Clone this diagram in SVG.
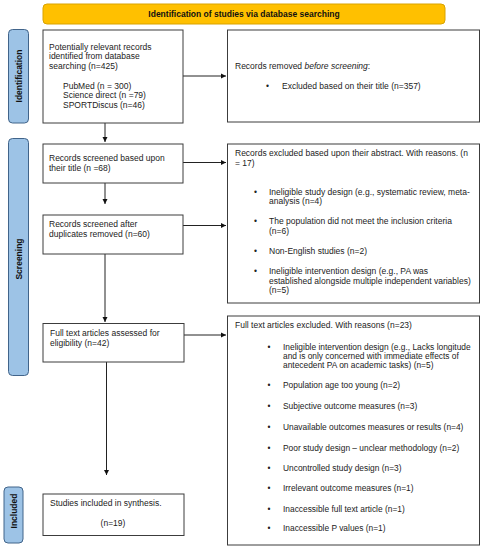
<svg xmlns="http://www.w3.org/2000/svg" width="485" height="550" viewBox="0 0 485 550">
<defs>
<marker id="arr" markerWidth="6" markerHeight="6" refX="5" refY="3" orient="auto" markerUnits="userSpaceOnUse">
<path d="M0,0.5 L5,3 L0,5.5 Z" fill="#111"/>
</marker>
<style>
.t{font-family:"Liberation Sans",Arial,sans-serif;font-size:8.5px;fill:#222}
.s{font-family:"Liberation Sans",Arial,sans-serif;font-size:8.4px;fill:#222}
.b{font-family:"Liberation Sans",Arial,sans-serif;font-size:8.5px;font-weight:bold;fill:#111}
.box{fill:#fff;stroke:#3c3c3c;stroke-width:1}
.bar{fill:#9dc3e6;stroke:#41648a;stroke-width:1}
.c{fill:none;stroke:#222;stroke-width:1;marker-end:url(#arr)}
</style>
</defs>
<rect width="485" height="550" fill="#fff"/>

<g id="banner">
<rect x="43" y="4" width="402" height="20" rx="4" fill="#ffc000" stroke="#d9a300" stroke-width="1"/>
<text class="b" x="244" y="17" text-anchor="middle">Identification of studies via database searching</text>
</g>

<g id="bar-identification">
<rect class="bar" x="8.5" y="29.5" width="20" height="93.5" rx="4"/>
<text class="b" transform="translate(21.5,76) rotate(-90)" text-anchor="middle">Identification</text>
</g>
<g id="bar-screening">
<rect class="bar" x="8.5" y="138.5" width="20" height="237" rx="4"/>
<text class="b" transform="translate(21.5,259) rotate(-90)" text-anchor="middle">Screening</text>
</g>
<g id="bar-included">
<rect class="bar" x="4" y="487" width="19" height="56" rx="4"/>
<text class="b" transform="translate(16.5,511) rotate(-90)" text-anchor="middle">Included</text>
</g>

<g id="connectors">
<line class="c" x1="183" y1="76" x2="226" y2="76"/>
<line class="c" x1="105" y1="123" x2="105" y2="142"/>
<line class="c" x1="183" y1="162.5" x2="226" y2="162.5"/>
<line class="c" x1="105" y1="183" x2="105" y2="204"/>
<line class="c" x1="183" y1="225.5" x2="226" y2="225.5"/>
<line class="c" x1="105" y1="254" x2="105" y2="322"/>
<line class="c" x1="184" y1="335" x2="226" y2="335"/>
<line class="c" x1="106.5" y1="362" x2="106.5" y2="475"/>
</g>

<g id="n-identified">
<rect class="box" x="43" y="30" width="140" height="93"/>
<text class="t" x="49" y="49.7">Potentially relevant records</text>
<text class="t" x="49" y="59.2">identified from database</text>
<text class="t" x="49" y="68.7">searching (n=425)</text>
<text class="t" x="63" y="88.7">PubMed (n = 300)</text>
<text class="t" x="63" y="98.2">Science direct (n =79)</text>
<text class="t" x="63" y="107.7">SPORTDiscus (n=46)</text>
</g>

<g id="n-removed">
<rect class="box" x="227.5" y="30" width="252" height="92"/>
<text class="t" x="235" y="68.7">Records removed <tspan font-style="italic">before screening</tspan>:</text>
<text class="t" x="266" y="88.7">•</text>
<text class="t" x="282" y="88.7">Excluded based on their title (n=357)</text>
</g>

<g id="n-screened-title">
<rect class="box" x="43" y="144" width="140" height="39"/>
<text class="t" x="49" y="160.7">Records screened based upon</text>
<text class="t" x="49" y="170.5">their title (n =68)</text>
</g>

<g id="n-screened-dup">
<rect class="box" x="43" y="215" width="140" height="39"/>
<text class="t" x="49" y="227.3">Records screened after</text>
<text class="t" x="49" y="237.3">duplicates removed (n=60)</text>
</g>

<g id="n-abstract-excluded">
<rect class="box" x="227.5" y="144" width="252" height="159"/>
<text class="t" x="235" y="156.3">Records excluded based upon their abstract. With reasons. (n</text>
<text class="t" x="235" y="166.3">= 17)</text>
<text class="t" x="254" y="195.3">•</text>
<text class="t" x="269" y="195.3">Ineligible study design (e.g., systematic review, meta-</text>
<text class="t" x="269" y="204.3">analysis (n=4)</text>
<text class="t" x="254" y="224">•</text>
<text class="t" x="269" y="224">The population did not meet the inclusion criteria</text>
<text class="t" x="269" y="233.5">(n=6)</text>
<text class="t" x="254" y="254">•</text>
<text class="t" x="269" y="254">Non-English studies (n=2)</text>
<text class="t" x="254" y="273.7">•</text>
<text class="t" x="269" y="273.7">Ineligible intervention design (e.g., PA was</text>
<text class="t" x="269" y="283.5">established alongside multiple independent variables)</text>
<text class="t" x="269" y="292.7">(n=5)</text>
</g>

<g id="n-fulltext">
<rect class="box" x="43" y="323.5" width="141" height="38.5"/>
<text class="t" x="50" y="335.7">Full text articles assessed for</text>
<text class="t" x="50" y="345.5">eligibility (n=42)</text>
</g>

<g id="n-fulltext-excluded">
<rect class="box" x="227.5" y="316" width="252" height="229"/>
<text class="t" x="235" y="328">Full text articles excluded. With reasons (n=23)</text>
<text class="s" x="267.5" y="349.5">•</text>
<text class="s" x="283" y="349.5">Ineligible intervention design (e.g., Lacks longitude</text>
<text class="s" x="283" y="358.5">and is only concerned with immediate effects of</text>
<text class="s" x="283" y="367.5">antecedent PA on academic tasks) (n=5)</text>
<text class="s" x="267.5" y="388">•</text>
<text class="s" x="283" y="388">Population age too young (n=2)</text>
<text class="s" x="267.5" y="409">•</text>
<text class="s" x="283" y="409">Subjective outcome measures (n=3)</text>
<text class="s" x="267.5" y="429.6">•</text>
<text class="s" x="283" y="429.6">Unavailable outcomes measures or results (n=4)</text>
<text class="s" x="267.5" y="450.6">•</text>
<text class="s" x="283" y="450.6">Poor study design – unclear methodology (n=2)</text>
<text class="s" x="267.5" y="470.6">•</text>
<text class="s" x="283" y="470.6">Uncontrolled study design (n=3)</text>
<text class="s" x="267.5" y="491.2">•</text>
<text class="s" x="283" y="491.2">Irrelevant outcome measures (n=1)</text>
<text class="s" x="267.5" y="512">•</text>
<text class="s" x="283" y="512">Inaccessible full text article (n=1)</text>
<text class="s" x="267.5" y="531.2">•</text>
<text class="s" x="283" y="531.2">Inaccessible P values (n=1)</text>
</g>

<g id="n-included">
<rect class="box" x="43" y="494" width="141" height="41.5"/>
<text class="t" x="50" y="506.3">Studies included in synthesis.</text>
<text class="t" x="113" y="526.3" text-anchor="middle">(n=19)</text>
</g>
</svg>
